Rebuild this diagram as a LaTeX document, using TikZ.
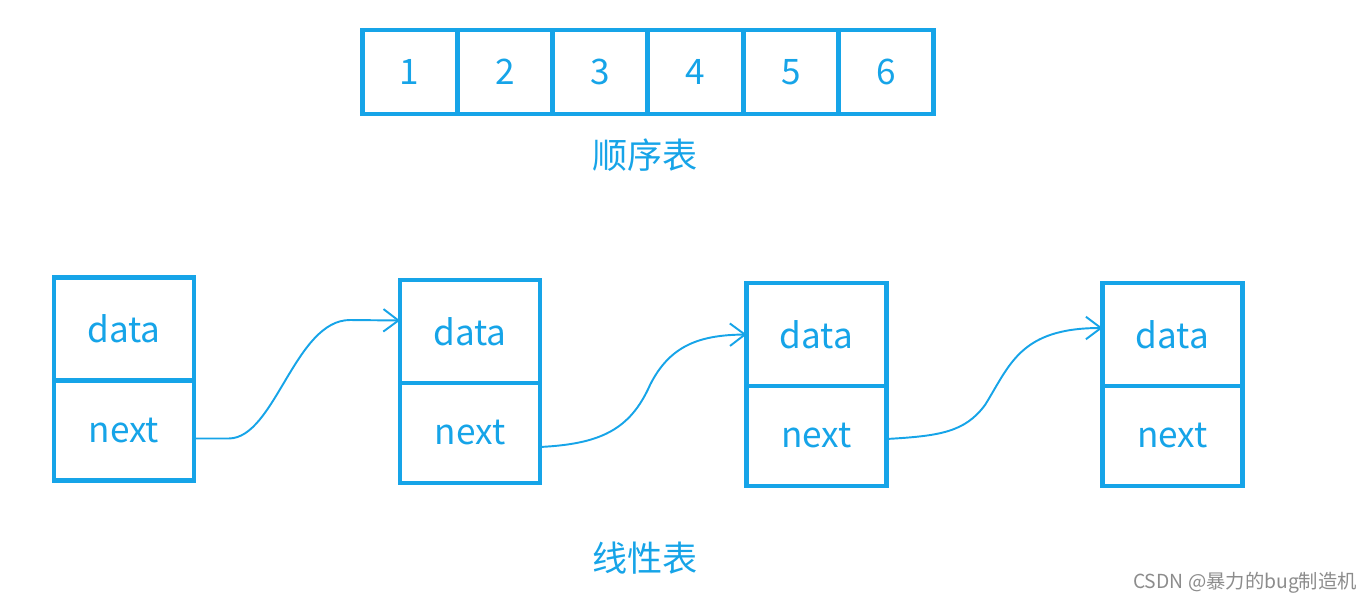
\documentclass[tikz,border=0pt]{standalone}
\usepackage{fontspec}
\setmainfont{Noto Sans CJK SC}
\usepackage{tikz}
\usetikzlibrary{positioning, arrows.meta}
\definecolor{lineblue}{RGB}{22,164,232}
\definecolor{markgray}{RGB}{140,140,140}
\tikzset{
  arrcell/.style={rectangle, draw=lineblue, line width=2.8pt, minimum width=1.906cm, minimum height=1.68cm, inner sep=0pt, outer sep=0pt, text=lineblue, font=\fontsize{20}{24}\selectfont},
  datacell/.style={rectangle, draw=lineblue, line width=2.8pt, minimum width=2.8cm, minimum height=2.06cm, inner sep=0pt, outer sep=0pt, text=lineblue, font=\fontsize{20}{24}\selectfont},
  nextcell/.style={datacell, minimum height=2.0cm},
  caption/.style={text=lineblue, font=\fontsize{20}{24}\selectfont},
  link/.style={draw=lineblue, line width=1.1pt, -{Straight Barb[length=0.3cm, width=0.45cm, line width=1.1pt]}},
}

\begin{document}
\begin{tikzpicture}[x=0.02cm, y=-0.02cm]
  \useasboundingbox (0,0) rectangle (1372,606);

  % Sequential list
  \node[arrcell] (a1) at (409.7,72) {1};
  \foreach \i [remember=\i as \p (initially 1)] in {2,...,6}
    \node[arrcell, right=0pt of a\p] (a\i) {\i};
  \node[caption] (seqname) at (645,155) {顺序表};

  % Linked list nodes
  \node[datacell] (d1) at (124,329) {data};
  \node[nextcell, below=0pt of d1] (n1) {next};
  \node[datacell] (d2) at (470,331.5) {data};
  \node[nextcell, below=0pt of d2] (n2) {next};
  \node[datacell] (d3) at (816.5,334.5) {data};
  \node[nextcell, below=0pt of d3] (n3) {next};
  \node[datacell] (d4) at (1172.5,334.5) {data};
  \node[nextcell, below=0pt of d4] (n4) {next};

  % Links
  \draw[link] ([yshift=-0.16cm]n1.east) -- ++(35,0)
    .. controls (275,438) and (295,320) .. (350,320) -- ([yshift=0.22cm]d2.west);
  \draw[link] ([yshift=-0.28cm]n2.east) .. controls (600,444) and (630,430) .. (650,385)
    .. controls (670,345) and (700,335) .. (d3.west);
  \draw[link] ([yshift=-0.06cm]n3.east) .. controls (940,436) and (965,432) .. (985,405)
    .. controls (1010,365) and (1020,328) .. ([yshift=0.13cm]d4.west);

  \node[caption] (linkname) at (645,558) {线性表};

  % Watermark
  \node[text=markgray, font=\fontsize{11}{13}\selectfont] (mark) at (1245,583) {CSDN @暴力的bug制造机};
\end{tikzpicture}
\end{document}
